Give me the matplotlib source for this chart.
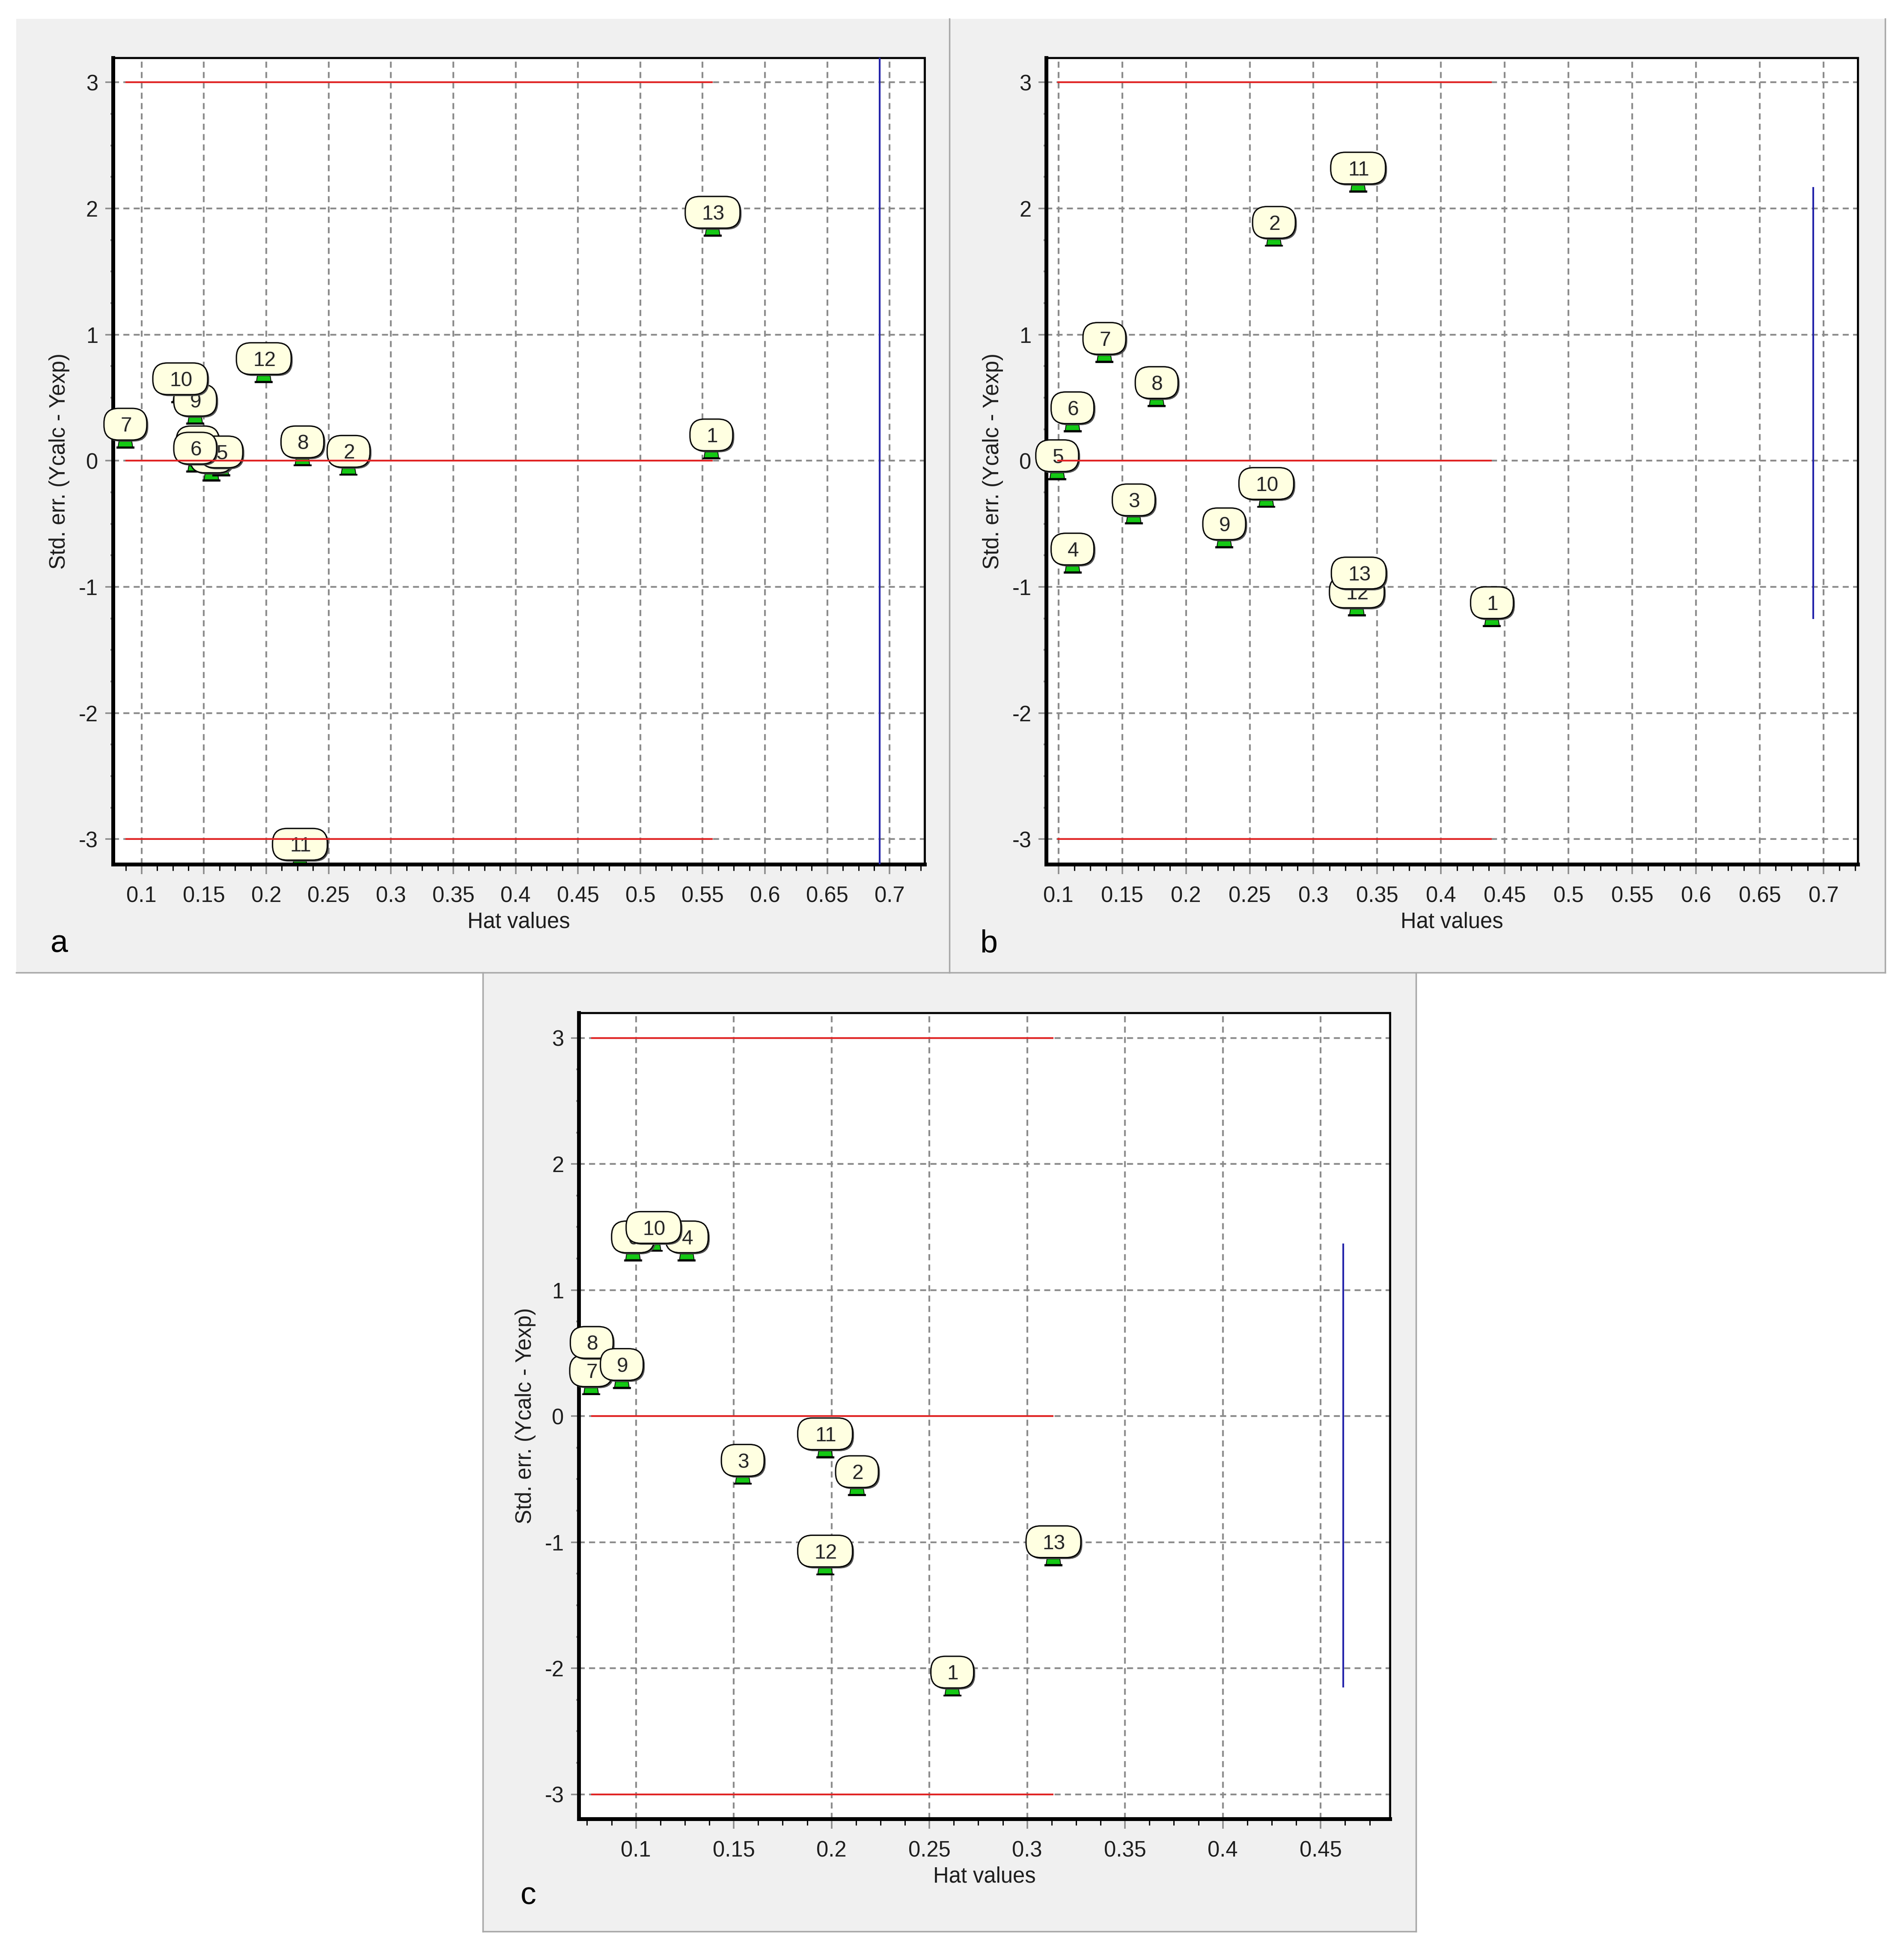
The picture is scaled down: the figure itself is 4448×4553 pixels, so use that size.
import numpy as np
import matplotlib
matplotlib.use('Agg')
import matplotlib.pyplot as plt
from matplotlib.patches import FancyBboxPatch, Polygon, Rectangle
from matplotlib.transforms import Affine2D, ScaledTranslation
from matplotlib.ticker import MultipleLocator, AutoMinorLocator, FuncFormatter
from matplotlib.lines import Line2D

plt.rcParams['font.family'] = ['Liberation Sans', 'DejaVu Sans']
plt.rcParams['axes.unicode_minus'] = False

# ---------------- data ----------------
a_labels = ['1', '2', '3', '4', '5', '6', '7', '8', '9', '10', '11', '12', '13']
a_hat = [0.557, 0.266, 0.145, 0.156, 0.164, 0.143, 0.087, 0.229, 0.143, 0.131, 0.227, 0.198, 0.558]
a_err = [0.045, -0.085, -0.01, -0.13, -0.09, -0.06, 0.13, -0.01, 0.32, 0.49, -3.2, 0.65, 1.81]
a_blue_x = 0.692
a_blue_y = [-3.2, 3.195]

b_labels = ['1', '2', '3', '4', '5', '6', '7', '8', '9', '10', '11', '12', '13']
b_hat = [0.440, 0.269, 0.159, 0.111, 0.099, 0.111, 0.136, 0.177, 0.230, 0.263, 0.335, 0.334, 0.3355]
b_err = [-1.285, 1.73, -0.47, -0.86, -0.12, 0.26, 0.81, 0.46, -0.66, -0.34, 2.16, -1.20, -1.05]
b_blue_x = 0.692
b_blue_y = [-1.255, 2.17]

c_labels = ['1', '2', '3', '4', '6', '7', '8', '9', '10', '11', '12', '13']
c_hat = [0.2617, 0.213, 0.1546, 0.126, 0.0985, 0.0771, 0.0774, 0.0928, 0.109, 0.1967, 0.1967, 0.3134]
c_err = [-2.19, -0.60, -0.51, 1.262, 1.262, 0.20, 0.425, 0.25, 1.337, -0.30, -1.23, -1.156]
c_blue_x = 0.4615
c_blue_y = [-2.152, 1.37]

y_ticks = [-3, -2, -1, 0, 1, 2, 3]
limit_lines = [-3, 0, 3]

# ---------------- figure ----------------
W, H = 4448, 4553
DPI = 100
fig = plt.figure(figsize=(W / DPI, H / DPI), dpi=DPI, facecolor='white')

PANEL_BG = '#f0f0f0'
FRAME = '#a8a8a8'


def panel_bg(x0, y0, x1, y1, edges):
    fig.add_artist(Rectangle((x0, y0), x1 - x0, y1 - y0, transform=fig.transFigure,
                             facecolor=PANEL_BG, edgecolor='none', zorder=0))
    for (xa, ya, xb, yb) in edges:
        fig.add_artist(Line2D([xa, xb], [ya, yb], transform=fig.transFigure,
                              color=FRAME, lw=2.5, zorder=0.5))


panel_bg(0.0085, 0.501, 0.4987, 0.9904, [(0.0085, 0.501, 0.4987, 0.501)])
panel_bg(0.4987, 0.501, 0.990, 0.9904, [(0.4987, 0.501, 0.4987, 0.9904),
                                         (0.990, 0.501, 0.990, 0.9904),
                                         (0.4987, 0.501, 0.990, 0.501)])
panel_bg(0.2536, 0.0089, 0.7438, 0.501, [(0.2536, 0.0089, 0.2536, 0.501),
                                          (0.7438, 0.0089, 0.7438, 0.501),
                                          (0.2536, 0.0089, 0.7438, 0.0089)])

FS_TICK = 36.5
FS_BAL = 34.5
GREEN = '#14c814'
BALLOON = '#ffffe1'


def draw_points(ax, labels, hat, err):
    px = Affine2D().scale(1.0 / 100.0) + fig.dpi_scale_trans
    cap = 0.716 * FS_BAL * 100.0 / 72.0
    # markers first (clipped to the plot area, under the frame)
    for x, y in zip(hat, err):
        tr = px + ScaledTranslation(x, y, ax.transData)
        body = Polygon([(-15, 7), (15, 7), (17, -6), (-17, -6)], closed=True,
                       facecolor=GREEN, edgecolor='black', lw=1.3, transform=tr, zorder=5)
        ax.add_patch(body)
        base = Rectangle((-21, -10), 42, 4.5, facecolor='black', edgecolor='none',
                         transform=tr, zorder=5.1)
        ax.add_patch(base)
    # balloons in ascending order, drawn over the frame
    for i, (lab, x, y) in enumerate(zip(labels, hat, err)):
        tr = px + ScaledTranslation(x, y, ax.transData)
        w = 100 if len(lab) == 1 else 128
        h = 74
        cy = 47
        z = 60 + i * 0.1
        sh = FancyBboxPatch((-w / 2 + 3.5, cy - h / 2 - 3.5), w, h,
                            boxstyle='round,pad=0,rounding_size=34',
                            facecolor='#505050', edgecolor='none', transform=tr, zorder=z)
        ax.add_patch(sh)
        sh.set_clip_on(False)
        bal = FancyBboxPatch((-w / 2, cy - h / 2), w, h,
                             boxstyle='round,pad=0,rounding_size=34',
                             facecolor=BALLOON, edgecolor='black', lw=2.2,
                             transform=tr, zorder=z + 0.02)
        ax.add_patch(bal)
        bal.set_clip_on(False)
        ax.text(1.5, cy - cap / 2, lab, transform=tr, ha='center', va='baseline',
                fontsize=FS_BAL, color='#262626', zorder=z + 0.04)


def make_panel(rect, xlim, ylim, xmax_tick, labels, hat, err, blue_x, blue_y):
    ax = fig.add_axes(rect)
    ax.set_facecolor('white')
    ax.set_axisbelow(True)
    ax.xaxis.set_major_locator(MultipleLocator(0.05))
    ax.xaxis.set_minor_locator(AutoMinorLocator(4))
    ax.yaxis.set_major_locator(MultipleLocator(1))
    ax.yaxis.set_minor_locator(AutoMinorLocator(4))
    xt = [t for t in np.arange(0.1, xmax_tick + 1e-6, 0.05)]
    ax.set_xticks(xt)
    ax.set_yticks(y_ticks)
    ax.xaxis.set_major_formatter(FuncFormatter(lambda v, p: '%g' % round(v, 2)))
    ax.yaxis.set_major_formatter(FuncFormatter(lambda v, p: '%d' % round(v)))
    ax.grid(True, which='major', color='#8c8c8c', lw=2.9, linestyle=(0, (3.5, 2.5)))
    ax.tick_params(axis='x', which='major', direction='out', length=16.5, width=2.6,
                   color='#8c8c8c', pad=20, labelsize=FS_TICK, labelcolor='#1e1e1e')
    ax.tick_params(axis='x', which='minor', direction='out', length=11, width=2.2,
                   color='black')
    ax.tick_params(axis='y', which='major', direction='out', length=13, width=2.6,
                   color='#8c8c8c', pad=12, labelsize=FS_TICK, labelcolor='#1e1e1e')
    ax.tick_params(axis='y', which='minor', direction='out', length=4, width=3,
                   color='#909090')
    for s in ['left', 'bottom']:
        ax.spines[s].set_linewidth(6.5)
    for s in ['top', 'right']:
        ax.spines[s].set_linewidth(3.6)
    for s in ax.spines.values():
        s.set_color('black')
        s.set_zorder(50)

    draw_points(ax, labels, hat, err)

    ax.hlines(limit_lines, min(hat), max(hat), color='#e02424', lw=2.9, zorder=100)
    ax.vlines(blue_x, blue_y[0], blue_y[1], color='#2424aa', lw=2.9, zorder=100)

    ax.set_xlabel('Hat values', fontsize=FS_TICK, color='#1e1e1e')
    ax.xaxis.set_label_coords(0.5, -0.0716)
    ax.xaxis.label.set_verticalalignment('center')
    ax.set_ylabel('Std. err. (Ycalc - Yexp)', fontsize=FS_TICK, color='#1e1e1e')
    ax.yaxis.set_label_coords(-0.066, 0.5)
    ax.yaxis.label.set_verticalalignment('center')

    ax.set_xlim(*xlim)
    ax.set_ylim(*ylim)
    return ax


make_panel([0.0593, 0.5565, 0.4263, 0.4139], (0.077, 0.728), (-3.2, 3.195), 0.7,
           a_labels, a_hat, a_err, a_blue_x, a_blue_y)
make_panel([0.5495, 0.5565, 0.4263, 0.4139], (0.0904, 0.727), (-3.2, 3.195), 0.7,
           b_labels, b_hat, b_err, b_blue_x, b_blue_y)
make_panel([0.3040, 0.0668, 0.4260, 0.4136], (0.0708, 0.4854), (-3.194, 3.2), 0.45,
           c_labels, c_hat, c_err, c_blue_x, c_blue_y)

fig.text(0.0312, 0.5157, 'a', fontsize=53, ha='center', va='center', color='black')
fig.text(0.5192, 0.5157, 'b', fontsize=53, ha='center', va='center', color='black')
fig.text(0.2774, 0.0272, 'c', fontsize=53, ha='center', va='center', color='black')

fig.savefig('out.png', dpi=DPI, facecolor='white')
